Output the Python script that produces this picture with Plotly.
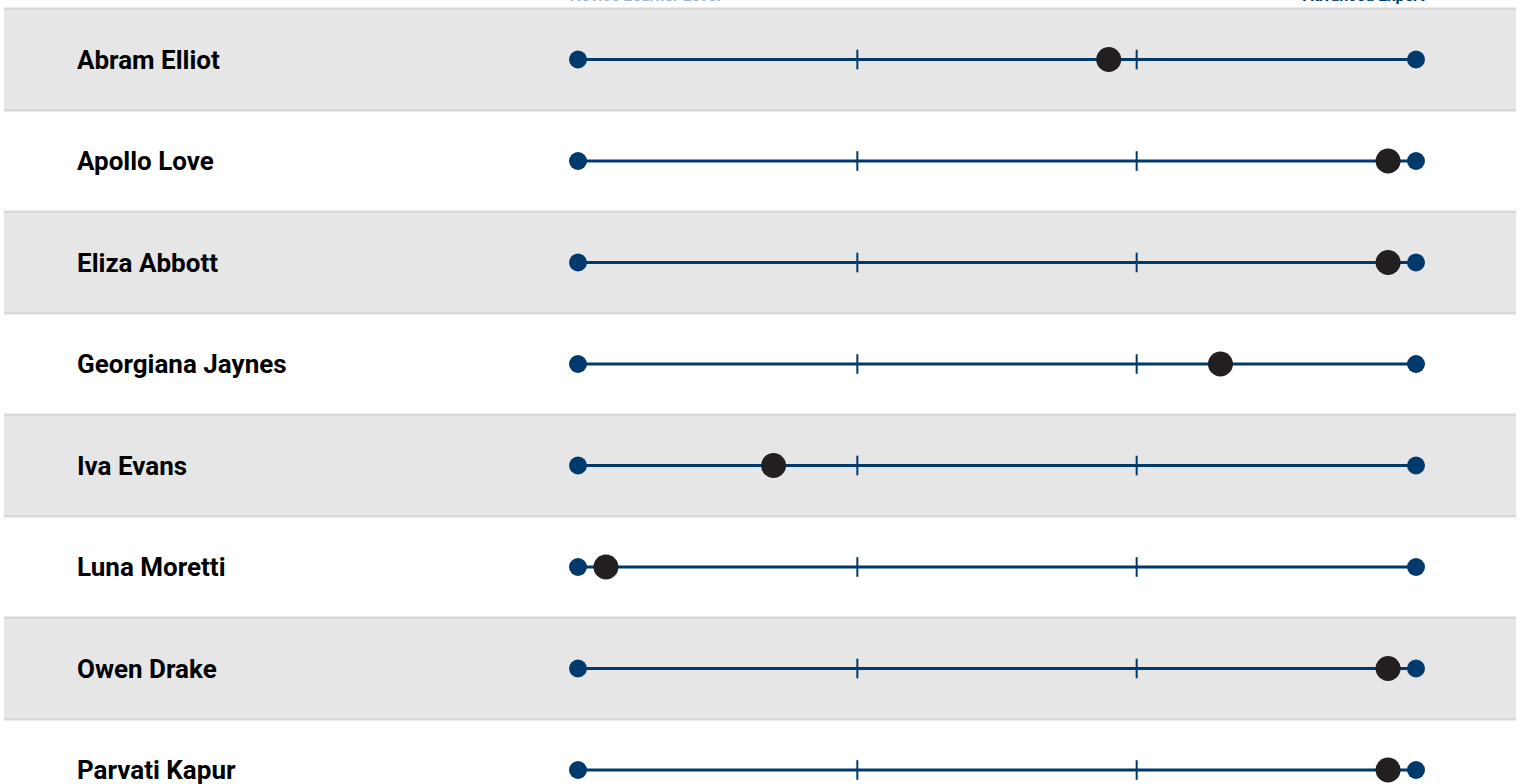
import plotly.graph_objects as go

names = ["Abram Elliot", "Apollo Love", "Eliza Abbott", "Georgiana Jaynes",
         "Iva Evans", "Luna Moretti", "Owen Drake", "Parvati Kapur"]
scores = [2.9, 3.9, 3.9, 3.3, 1.7, 1.1, 3.9, 3.9]
scale_min = 1
scale_max = 4
tick_values = [2, 3]
header_left = "Novice Learner Level"
header_right = "Advanced Expert"

BLUE = "#003a6c"
DOT = "#231f20"
BAND = "#e6e6e6"
RULE = "#d9d9d9"

W, H = 1520, 784
px0, px_step = 578, 279.33  # pixel of scale_min, pixels per unit
x_lo = scale_min - px0 / px_step
x_hi = scale_min + (W - px0) / px_step
row_c0, row_h = 59.5, 101.5
y_top = -row_c0 / row_h
y_bot = (H - row_c0) / row_h

idx = list(range(len(names)))

fig = go.Figure()

# range lines with endpoint dots
lx, ly = [], []
for i in idx:
    lx += [scale_min, scale_max, None]
    ly += [i, i, None]
fig.add_trace(go.Scatter(x=lx, y=ly, mode="lines+markers",
                         line=dict(color=BLUE, width=3),
                         marker=dict(size=18, color=BLUE),
                         hoverinfo="skip", showlegend=False))

# tick marks
tx, ty = [], []
for i in idx:
    for t in tick_values:
        tx.append(t)
        ty.append(i)
fig.add_trace(go.Scatter(x=tx, y=ty, mode="markers",
                         marker=dict(symbol="line-ns", size=14,
                                     line=dict(color=BLUE, width=2)),
                         hoverinfo="skip", showlegend=False))

# scores
fig.add_trace(go.Scatter(x=scores, y=idx, mode="markers",
                         marker=dict(size=25, color=DOT),
                         text=names, hovertemplate="%{text}: %{x}<extra></extra>",
                         showlegend=False))

shapes = []
for i in idx:
    if i % 2 == 0:
        shapes.append(dict(type="rect", xref="paper", yref="y",
                           x0=4 / W, x1=1516 / W, y0=i - 0.5, y1=i + 0.5,
                           fillcolor=BAND, line=dict(width=0), layer="below"))
for i in range(len(names) + 1):
    shapes.append(dict(type="line", xref="paper", yref="y",
                       x0=4 / W, x1=1516 / W, y0=i - 0.5, y1=i - 0.5,
                       line=dict(color=RULE, width=2.5), layer="below"))

annotations = []
for i, n in zip(idx, names):
    annotations.append(dict(x=75 / W, xref="paper", y=i, yref="y", text=n,
                            showarrow=False, xanchor="left", yanchor="middle",
                            font=dict(family="Roboto", size=26, color="#000000",
                                      weight=700)))
annotations.append(dict(x=568 / W, xref="paper", y=1 - 7 / H, yref="paper",
                        text=header_left, showarrow=False, xanchor="left",
                        yanchor="bottom",
                        font=dict(family="Roboto", size=16, color="#9fb3c8",
                                  weight=700)))
annotations.append(dict(x=1427 / W, xref="paper", y=1 - 7 / H, yref="paper",
                        text=header_right, showarrow=False, xanchor="right",
                        yanchor="bottom",
                        font=dict(family="Roboto", size=16, color=BLUE,
                                  weight=700)))

fig.update_layout(
    width=W, height=H,
    margin=dict(l=0, r=0, t=0, b=0),
    paper_bgcolor="white", plot_bgcolor="white",
    shapes=shapes, annotations=annotations,
    xaxis=dict(range=[x_lo, x_hi], visible=False, fixedrange=True),
    yaxis=dict(range=[y_bot, y_top], visible=False, fixedrange=True),
)

fig.write_html("out.html",
               config={"displayModeBar": False},
               post_script="document.body.style.margin='0';document.body.style.overflow='hidden';")
